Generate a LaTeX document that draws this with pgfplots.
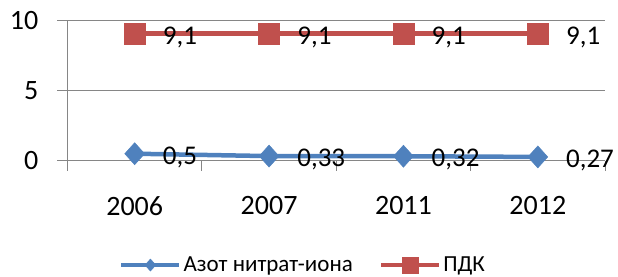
\documentclass[border=0pt]{standalone}
\usepackage{fontspec}
\setmainfont{Carlito}
\usepackage{pgfplots}
\pgfplotsset{compat=1.18}
\definecolor{gridc}{HTML}{868686}
\definecolor{blu}{HTML}{4F81BD}
\definecolor{rd}{HTML}{C0504D}
\pgfplotstableread{
x y lab
0 0.5 {0,5}
1 0.33 {0,33}
2 0.32 {0,32}
3 0.27 {0,27}
}\azot
\pgfplotstableread{
x y lab
0 9.1 {9,1}
1 9.1 {9,1}
2 9.1 {9,1}
3 9.1 {9,1}
}\pdk
\begin{document}
\begin{tikzpicture}[x=1bp,y=1bp]
\path[use as bounding box] (0,0) rectangle (618,276);
\begin{axis}[
 at={(67.5bp,115.3bp)}, anchor=south west,
 scale only axis, width=537.5bp, height=139.7bp,
 xmin=-0.5, xmax=3.5, ymin=0, ymax=10,
 axis lines*=left,
 axis line style={gridc, line width=1bp},
 xtick={-0.5,0.5,1.5,2.5,3.5}, xticklabels={},
 extra x ticks={0,1,2,3},
 extra x tick labels={2006,2007,2011,2012},
 extra x tick style={grid=none, major tick length=0pt},
 ytick={0,5,10},
 ymajorgrids, grid style={gridc, line width=1bp},
 tick align=outside, major tick length=10bp,
 tick style={gridc, line width=1bp},
 /pgf/number format/assume math mode=true,
 ticklabel style={font=\fontsize{28bp}{30bp}\selectfont, inner sep=0pt},
 xticklabel style={anchor=north, yshift=-35.5bp},
 yticklabel style={anchor=east, xshift=-19bp},
 clip=false,
 point meta=explicit symbolic,
 nodes near coords,
 every node near coord/.style={anchor=west, inner sep=0pt, xshift=28bp, yshift=-3.5bp, font=\fontsize{27bp}{29bp}\selectfont, black},
 legend style={at={(0.0967,-0.747)}, anchor=west, draw=none, fill=none, inner sep=0pt,
   font=\fontsize{23bp}{25bp}\selectfont, nodes={inner sep=2.5bp},
   /tikz/every even column/.append style={column sep=24bp}},
 legend columns=2,
 legend image code/.code={\draw[#1, line width=3.5bp, mark repeat=2, mark phase=2] plot coordinates {(0bp,0bp) (29bp,0bp) (58bp,0bp)};},
]
\addplot[blu, line width=4.5bp, mark=diamond*, mark size=11bp, mark options={solid, fill=blu, draw=blu, line width=0.5bp, xscale=1.2},
  legend image post style={mark size=6bp}] table[x=x, y=y, meta=lab] {\azot};
\addlegendentry{Азот нитрат-иона}
\addplot[rd, line width=4.5bp, mark=square*, mark size=10.5bp, mark options={solid, fill=rd, draw=rd, line width=0.5bp},
  legend image post style={mark size=8bp}] table[x=x, y=y, meta=lab] {\pdk};
\addlegendentry{ПДК}
\end{axis}
\end{tikzpicture}
\end{document}
